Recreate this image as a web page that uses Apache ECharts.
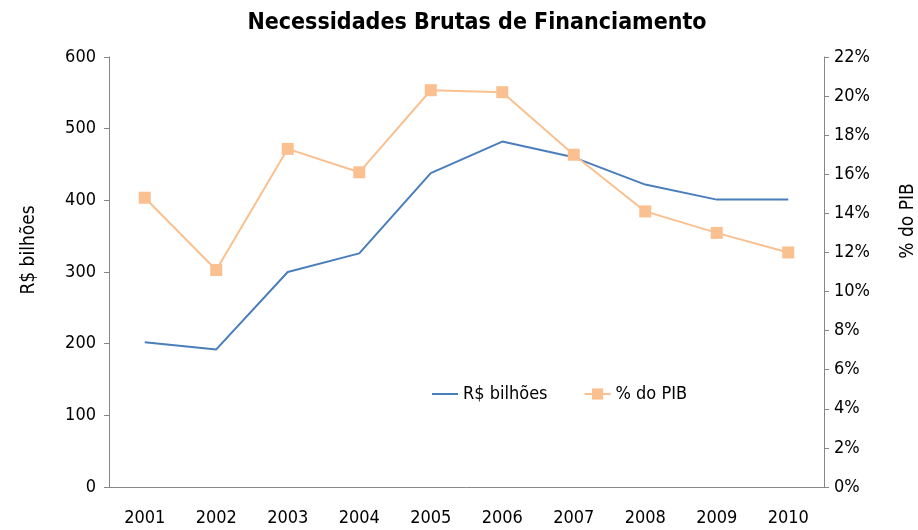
<!DOCTYPE html>
<html lang="pt">
<head>
    <meta charset="UTF-8">
    <title>Necessidades Brutas de Financiamento</title>
    <script src="https://cdn.jsdelivr.net/npm/echarts@6/dist/echarts.min.js"></script>
</head>
<body style="margin:0">
<div id="main" style="width: 918px;height:530px;"></div>
<script>
    var anos = ['2001', '2002', '2003', '2004', '2005', '2006', '2007', '2008', '2009', '2010'];
    var bilhoes = [202, 192, 300, 326, 438, 482, 460, 422, 401, 401];
    var pctPib = [14.8, 11.1, 17.3, 16.1, 20.3, 20.2, 17.0, 14.1, 13.0, 12.0];

    var fonte = "'DejaVu Sans Condensed', 'Liberation Sans Narrow', sans-serif";
    var cinza = '#878787';

    var myChart = echarts.init(document.getElementById('main'));

    // nome do eixo na vertical (lido de baixo para cima)
    function nomeEixo(texto, x, y) {
        return {
            type: 'text',
            x: x,
            y: y,
            rotation: Math.PI / 2,
            style: {
                text: texto,
                fontFamily: fonte,
                fontSize: 19,
                fill: '#000',
                align: 'center',
                verticalAlign: 'middle'
            }
        };
    }

    var option = {
        animation: false,
        textStyle: { fontFamily: fonte, color: '#000' },
        title: {
            text: 'Necessidades Brutas de Financiamento',
            left: 472,
            top: 7,
            textAlign: 'center',
            textStyle: { fontFamily: fonte, fontSize: 23, fontWeight: 'bold', color: '#000' }
        },
        legend: {
            left: 426,
            top: 380,
            itemGap: 36,
            itemWidth: 26,
            itemHeight: 14,
            textStyle: { fontFamily: fonte, fontSize: 18, color: '#000' },
            data: [
                { name: 'R$ bilhões', itemStyle: { opacity: 0 } },
                { name: '% do PIB' }
            ]
        },
        grid: { left: 109, right: 94, top: 57, bottom: 43 },
        xAxis: {
            type: 'category',
            data: anos,
            axisLine: { lineStyle: { color: cinza } },
            axisTick: { length: 7, lineStyle: { color: cinza } },
            axisLabel: { fontFamily: fonte, fontSize: 18, color: '#000', margin: 22 }
        },
        yAxis: [{
            type: 'value',
            min: 0, max: 600, interval: 100,
            axisLine: { show: true, lineStyle: { color: cinza } },
            axisTick: { show: true, length: 5, lineStyle: { color: cinza } },
            axisLabel: { fontFamily: fonte, fontSize: 18, color: '#000', margin: 13 },
            splitLine: { show: false }
        }, {
            type: 'value',
            position: 'right',
            min: 0, max: 22, interval: 2,
            axisLine: { show: true, lineStyle: { color: cinza } },
            axisTick: { show: true, length: 5, lineStyle: { color: cinza } },
            axisLabel: { fontFamily: fonte, fontSize: 18, color: '#000', margin: 10, formatter: '{value}%' },
            splitLine: { show: false }
        }],
        graphic: [
            nomeEixo('R$ bilhões', 29, 250),
            nomeEixo('% do PIB', 908, 221)
        ],
        series: [{
            name: 'R$ bilhões',
            type: 'line',
            data: bilhoes,
            symbol: 'none',
            lineStyle: { color: '#4a7ebb', width: 2 },
            itemStyle: { color: '#4a7ebb' }
        }, {
            name: '% do PIB',
            type: 'line',
            yAxisIndex: 1,
            data: pctPib,
            symbol: 'rect',
            symbolSize: 12,
            lineStyle: { color: '#fac090', width: 2 },
            itemStyle: { color: '#fac090' }
        }]
    };

    myChart.setOption(option);
</script>
</body>
</html>
